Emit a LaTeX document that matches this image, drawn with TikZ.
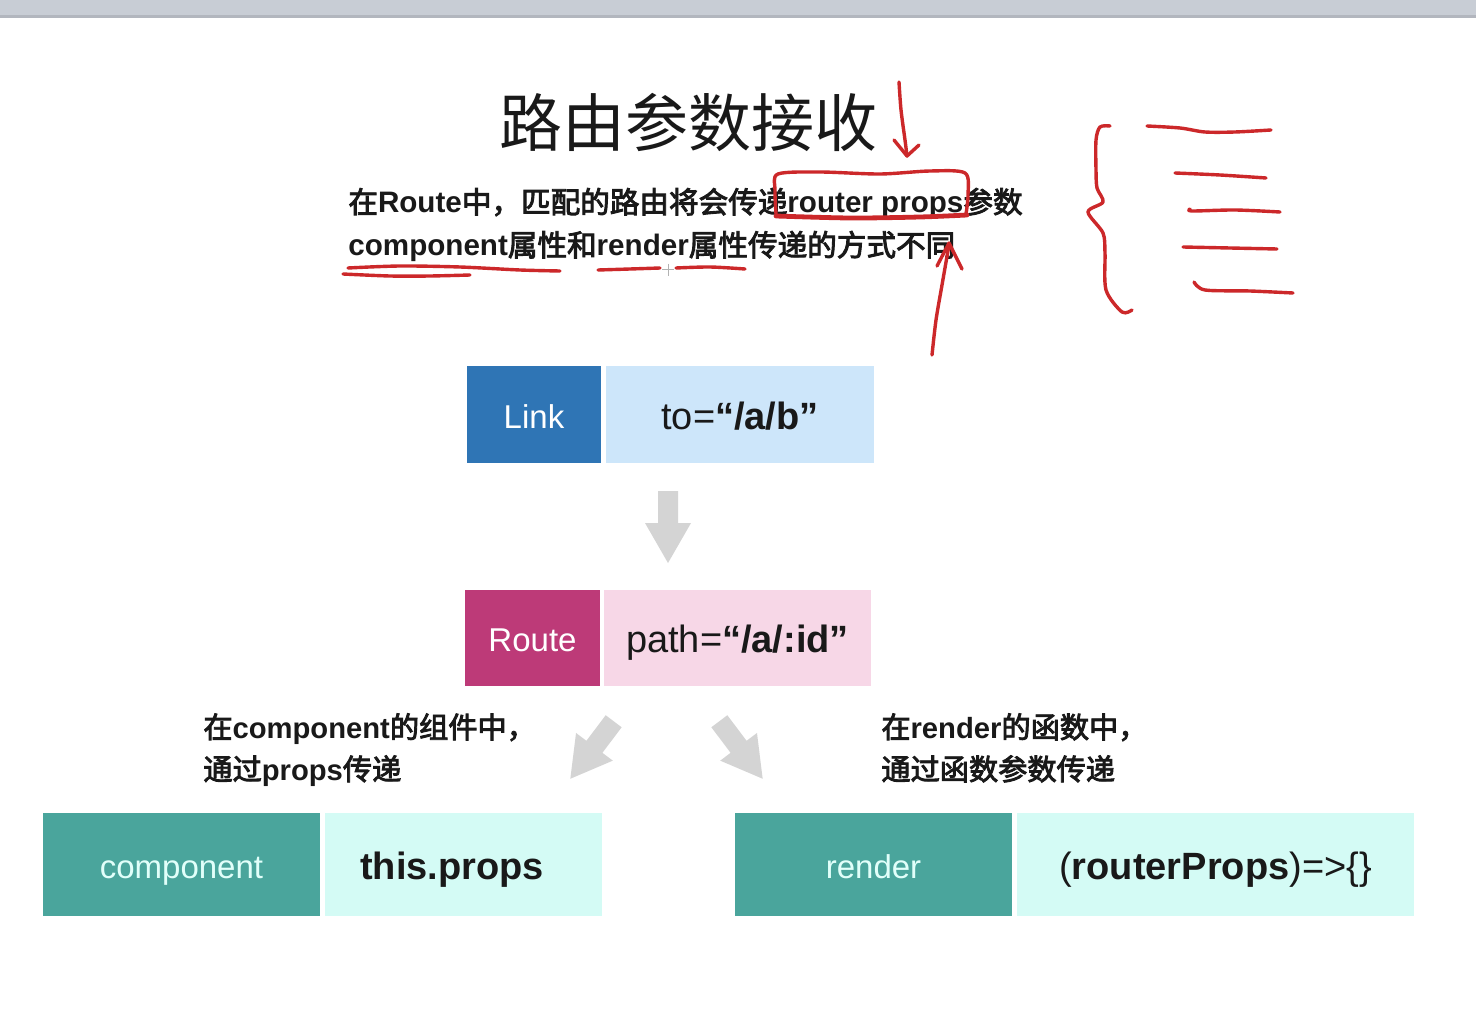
\documentclass[tikz,border=0pt]{standalone}
\usepackage{fontspec}
\setmainfont{Liberation Sans}
\newfontfamily\cjk{Noto Sans CJK SC}
\newfontfamily\cjkmed[FakeBold=3]{Noto Sans CJK SC}
\newcommand\zh[1]{{\cjk #1}}
\newcommand\zhm[1]{{\cjkmed #1}}

\definecolor{bargray}{RGB}{200,205,213}
\definecolor{barline}{RGB}{178,182,190}
\definecolor{linkblue}{RGB}{47,117,181}
\definecolor{linklight}{RGB}{205,230,250}
\definecolor{routepink}{RGB}{189,58,120}
\definecolor{routelight}{RGB}{247,215,231}
\definecolor{teal}{RGB}{74,165,156}
\definecolor{teallight}{RGB}{212,251,245}
\definecolor{tealtext}{RGB}{225,255,250}
\definecolor{arrowgray}{RGB}{212,212,212}
\definecolor{inkred}{RGB}{204,40,42}
\definecolor{ink}{RGB}{25,25,25}

\begin{document}
\begin{tikzpicture}[x=0.5pt,y=-0.5pt,
  tagbox/.style={rectangle, inner sep=0pt, minimum height=48.5pt, text=white,
    text height=17pt, text depth=3.4pt,
    font=\fontsize{16.5}{20}\selectfont},
  valbox/.style={rectangle, inner sep=0pt, minimum height=48.5pt, text=ink,
    text height=19pt, text depth=4.2pt,
    font=\fontsize{19}{23}\selectfont},
  lbl/.style={inner sep=0pt, text=ink, font=\fontsize{14.6}{17}\selectfont},
  sub/.style={inner sep=0pt, text=ink, font=\fontsize{14.8}{18}\selectfont},
  redink/.style={draw=inkred, line width=1.7pt, line cap=round, line join=round},
  garrow/.pic={\fill[arrowgray] (-10,-36) -- (-10,-4) -- (-23,-4) -- (0,36)
      -- (23,-4) -- (10,-4) -- (10,-36) -- cycle;}]

\useasboundingbox (0,0) rectangle (1476,1026);
\fill[white] (0,0) rectangle (1476,1026);

% window bar along the top
\fill[bargray] (0,0) rectangle (1476,15);
\fill[barline] (0,15) rectangle (1476,18);

% heading and explanation
\node[text=ink, inner sep=0pt, font=\fontsize{31.5}{36}\selectfont] (title) at (688,123) {\zh{路由参数接收}};
\node[sub, anchor=base west] (sub1) at (348,213)
  {\zhm{在}\textbf{Route}\zhm{中，匹配的路由将会传递}\textbf{router props}\zhm{参数}};
\node[sub, anchor=base west] (sub2) at (348,256)
  {\textbf{component}\zhm{属性和}\textbf{render}\zhm{属性传递的方式不同}};

% Link row
\node[tagbox, fill=linkblue, minimum width=67pt] (link) at (534,414.5) {Link};
\node[valbox, fill=linklight, minimum width=134pt] (to) at (740,414.5) {to=\textbf{“/a/b”}};

% Route row
\node[tagbox, fill=routepink, minimum width=67.5pt, minimum height=48pt] (route) at (532.5,638) {Route};
\node[valbox, fill=routelight, minimum width=133.5pt, minimum height=48pt] (path) at (737.5,638) {path=\textbf{“/a/:id”}};

% block arrows
\pic at (668,527) {garrow};
\pic[rotate=-37] at (592,750) {garrow};
\pic[rotate=37] at (741,750) {garrow};

% notes above the two ways
\node[lbl, anchor=base west] (cnote1) at (203,738) {\zhm{在}\textbf{component}\zhm{的组件中，}};
\node[lbl, anchor=base west] (cnote2) at (203,780) {\zhm{通过}\textbf{props}\zhm{传递}};
\node[lbl, anchor=base west] (rnote1) at (881,738) {\zhm{在}\textbf{render}\zhm{的函数中，}};
\node[lbl, anchor=base west] (rnote2) at (881,780) {\zhm{通过函数参数传递}};

% component / render rows
\node[tagbox, fill=teal, text=tealtext, minimum width=138.5pt, minimum height=51.5pt] (comp) at (181.5,864.5) {component};
\node[valbox, fill=teallight, minimum width=138.5pt, minimum height=51.5pt] (props) at (463.5,864.5) {\textbf{this.props}\hspace*{11.5pt}};
\node[tagbox, fill=teal, text=tealtext, minimum width=138.5pt, minimum height=51.5pt] (render) at (873.5,864.5) {render};
\node[valbox, fill=teallight, minimum width=198.5pt, minimum height=51.5pt] (fn) at (1215.5,864.5) {(\textbf{routerProps})=>\{\}};

% pointer cross
\draw[gray!60, line width=0.5pt] (662,270) -- (674,270) (668,264) -- (668,276);

% hand-drawn red marks
\draw[redink] plot[smooth] coordinates {(899,82) (901,110) (905,140) (907,156)};
\draw[redink] (894,140) -- (907,156) -- (919,145);
\draw[redink] plot[smooth] coordinates {(776,214) (775,190) (778,174) (820,172) (880,174) (930,171) (965,173) (968,195) (966,214)};
\draw[redink, line width=2.4pt] plot[smooth] coordinates {(776,216) (850,218) (920,217) (967,215)};
\draw[redink] plot[smooth] coordinates {(932,355) (936,320) (942,285) (949,245)};
\draw[redink] (937,266) -- (949,243) -- (962,269);
\draw[redink] plot[smooth] coordinates {(348,268) (400,266) (460,267) (520,270) (560,271)};
\draw[redink] plot[smooth] coordinates {(343,274) (390,276) (430,276) (470,275)};
\draw[redink] plot[smooth] coordinates {(598,270) (630,269) (660,268)};
\draw[redink] plot[smooth] coordinates {(676,268) (710,267) (745,269)};

% brace with five lines
\draw[redink] plot[smooth] coordinates {(1110,126) (1100,127) (1096,140) (1096,170) (1097,188) (1103,202) (1088,212) (1103,233) (1105,253) (1106,290) (1122,312) (1132,310)};
\draw[redink] plot[smooth] coordinates {(1147,126) (1180,128) (1205,132) (1235,132) (1271,130)};
\draw[redink] plot[smooth] coordinates {(1175,173) (1220,175) (1266,178)};
\draw[redink] plot[smooth] coordinates {(1190,209) (1192,211) (1235,210) (1280,212)};
\draw[redink] plot[smooth] coordinates {(1183,247) (1230,248) (1277,249)};
\draw[redink] plot[smooth] coordinates {(1194,282) (1205,290) (1250,291) (1293,293)};
\end{tikzpicture}
\end{document}
